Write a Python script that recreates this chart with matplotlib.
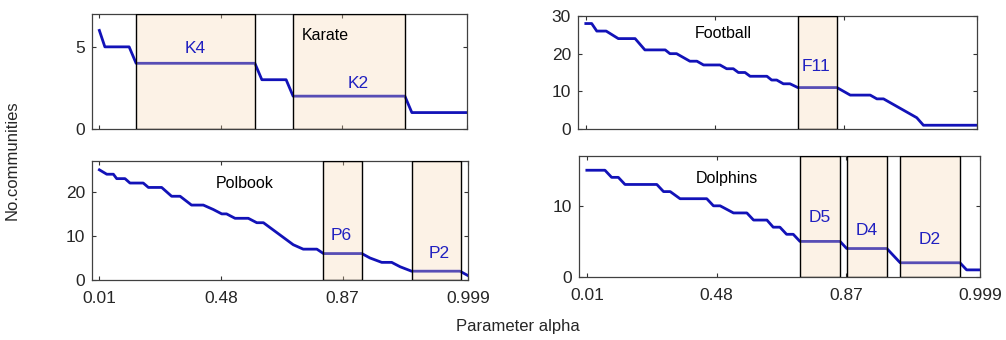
import matplotlib
matplotlib.use("Agg")
import matplotlib.pyplot as plt
from matplotlib.patches import Rectangle

plt.rcParams['font.family'] = ['Liberation Sans', 'DejaVu Sans']

# x positions are on an index scale 0..100; tick labels give alpha values
tick_pos = [0, 33, 66, 100]
tick_labels = ['0.01', '0.48', '0.87', '0.999']

karate_x = [0, 1.5, 8.1, 10, 42.3, 44.2, 50.8, 52.7, 83.1, 85.0, 100]
karate_y = [6, 5, 5, 4, 4, 3, 3, 2, 2, 1, 1]
karate_boxes = [(10, 42.3), (52.7, 83.1)]
karate_box_labels = [('K4', 26, 4.9), ('K2', 70.4, 2.8)]

football_x = [0, 1.5, 2.8, 5.2, 8.3, 12.6, 15.1, 20.3, 21.5, 23.2, 26.6, 28.4, 30.1,
              34.3, 36.0, 37.7, 39.0, 40.7, 42.0, 46.3, 47.5, 48.8, 50.5, 52.2, 54.2,
              64.2, 67.6, 72.7, 74.4, 76.1, 84.6, 86.3, 100]
football_y = [28, 28, 26, 26, 24, 24, 21, 21, 20, 20, 18, 18, 17,
              17, 16, 16, 15, 15, 14, 14, 13, 13, 12, 12, 11,
              11, 9, 9, 8, 8, 3, 1, 1]
football_boxes = [(54.2, 64.2)]
football_box_labels = [('F11', 58.8, 16.5)]

polbook_x = [0, 2.0, 3.8, 4.7, 6.95, 8.3, 11.9, 13.3, 16.9, 19.6, 21.9, 25, 28.2,
             30.9, 33.2, 34.5, 36.8, 40.4, 42.7, 44.5, 52.6, 55.3, 59, 60.8, 71.2,
             73.4, 76.6, 79.3, 81.6, 84.7, 97.8, 100]
polbook_y = [25, 24, 24, 23, 23, 22, 22, 21, 21, 19, 19, 17, 17,
             16, 15, 15, 14, 14, 13, 13, 8, 7, 7, 6, 6,
             5, 4, 4, 3, 2, 2, 1]
polbook_boxes = [(60.8, 71.2), (84.7, 98.0)]
polbook_box_labels = [('P6', 65.7, 10.0), ('P2', 92.2, 6.0)]

dolphins_x = [0, 4.6, 6.3, 8.0, 9.7, 17.8, 19.5, 21.2, 23.7, 30.5, 32.2, 33.9, 37.3,
              40.7, 42.4, 45.8, 47.4, 49.1, 50.8, 52.5, 54.2, 64.4, 66.1, 76.3, 79.7,
              94.9, 96.6, 100]
dolphins_y = [15, 15, 14, 14, 13, 13, 12, 12, 11, 11, 10, 10, 9,
              9, 8, 8, 7, 7, 6, 6, 5, 5, 4, 4, 2,
              2, 1, 1]
dolphins_boxes = [(54.2, 64.4), (66.1, 76.3), (79.7, 95.0)]
dolphins_box_labels = [('D5', 59.3, 8.3), ('D4', 71.2, 6.6), ('D2', 87.3, 5.2)]

panels = [
    dict(name='Karate', x=karate_x, y=karate_y, boxes=karate_boxes, labels=karate_box_labels,
         ylim=(0, 7), yticks=[0, 5], title_pos=(61.5, 5.7),
         rect=[92, 14, 467, 129], xlabels=False),
    dict(name='Football', x=football_x, y=football_y, boxes=football_boxes, labels=football_box_labels,
         ylim=(0, 30), yticks=[0, 10, 20, 30], title_pos=(35.2, 25.4),
         rect=[578, 16, 977, 129], xlabels=False),
    dict(name='Polbook', x=polbook_x, y=polbook_y, boxes=polbook_boxes, labels=polbook_box_labels,
         ylim=(0, 27), yticks=[0, 10, 20], title_pos=(39.5, 22.0),
         rect=[92, 161, 468, 280], xlabels=True),
    dict(name='Dolphins', x=dolphins_x, y=dolphins_y, boxes=dolphins_boxes, labels=dolphins_box_labels,
         ylim=(0, 17), yticks=[0, 10], title_pos=(35.6, 13.9),
         rect=[579, 156, 980, 277], xlabels=True),
]

W, H = 1006, 340
fig = plt.figure(figsize=(W / 100, H / 100), dpi=100)

line_color = '#1212B8'
box_color = (248 / 255, 215 / 255, 175 / 255)

for p in panels:
    l, t, r, b = p['rect']
    ax = fig.add_axes([l / W, 1 - b / H, (r - l) / W, (b - t) / H])
    ax.plot(p['x'], p['y'], color=line_color, lw=2.0, zorder=2)
    for (x0, x1) in p['boxes']:
        ax.add_patch(Rectangle((x0, p['ylim'][0]), x1 - x0, p['ylim'][1] - p['ylim'][0],
                               facecolor=box_color, alpha=0.3, edgecolor='none', zorder=3))
        ax.add_patch(Rectangle((x0, p['ylim'][0]), x1 - x0, p['ylim'][1] - p['ylim'][0],
                               facecolor='none', edgecolor='black', lw=1.0, zorder=4))
    for (txt, tx, ty) in p['labels']:
        ax.text(tx, ty, txt, color='#2020C0', fontsize=12.5, ha='center', va='center', zorder=5)
    ax.text(p['title_pos'][0], p['title_pos'][1], p['name'], color='black', fontsize=11.5,
            ha='center', va='center', zorder=5)
    ax.set_xlim(-2, 100)
    ax.set_ylim(*p['ylim'])
    ax.set_yticks(p['yticks'])
    ax.set_xticks(tick_pos)
    if p['xlabels']:
        ax.set_xticklabels(tick_labels)
    else:
        ax.set_xticklabels([])
    ax.tick_params(direction='in', top=True, right=True, length=3, width=0.8,
                   labelsize=12.5, colors='#333333', labelcolor='#262626')
    ax.tick_params(axis='x', pad=8)
    ax.tick_params(axis='y', pad=5)
    for s in ax.spines.values():
        s.set_color('#404040')
        s.set_linewidth(0.9)

fig.text(12 / W, 1 - 160 / H, 'No.communities', rotation=90, ha='center', va='center',
         fontsize=12, color='#262626')
fig.text(518 / W, 1 - 327 / H, 'Parameter alpha', ha='center', va='center',
         fontsize=12, color='#262626')

fig.savefig('out.png', dpi=100)
